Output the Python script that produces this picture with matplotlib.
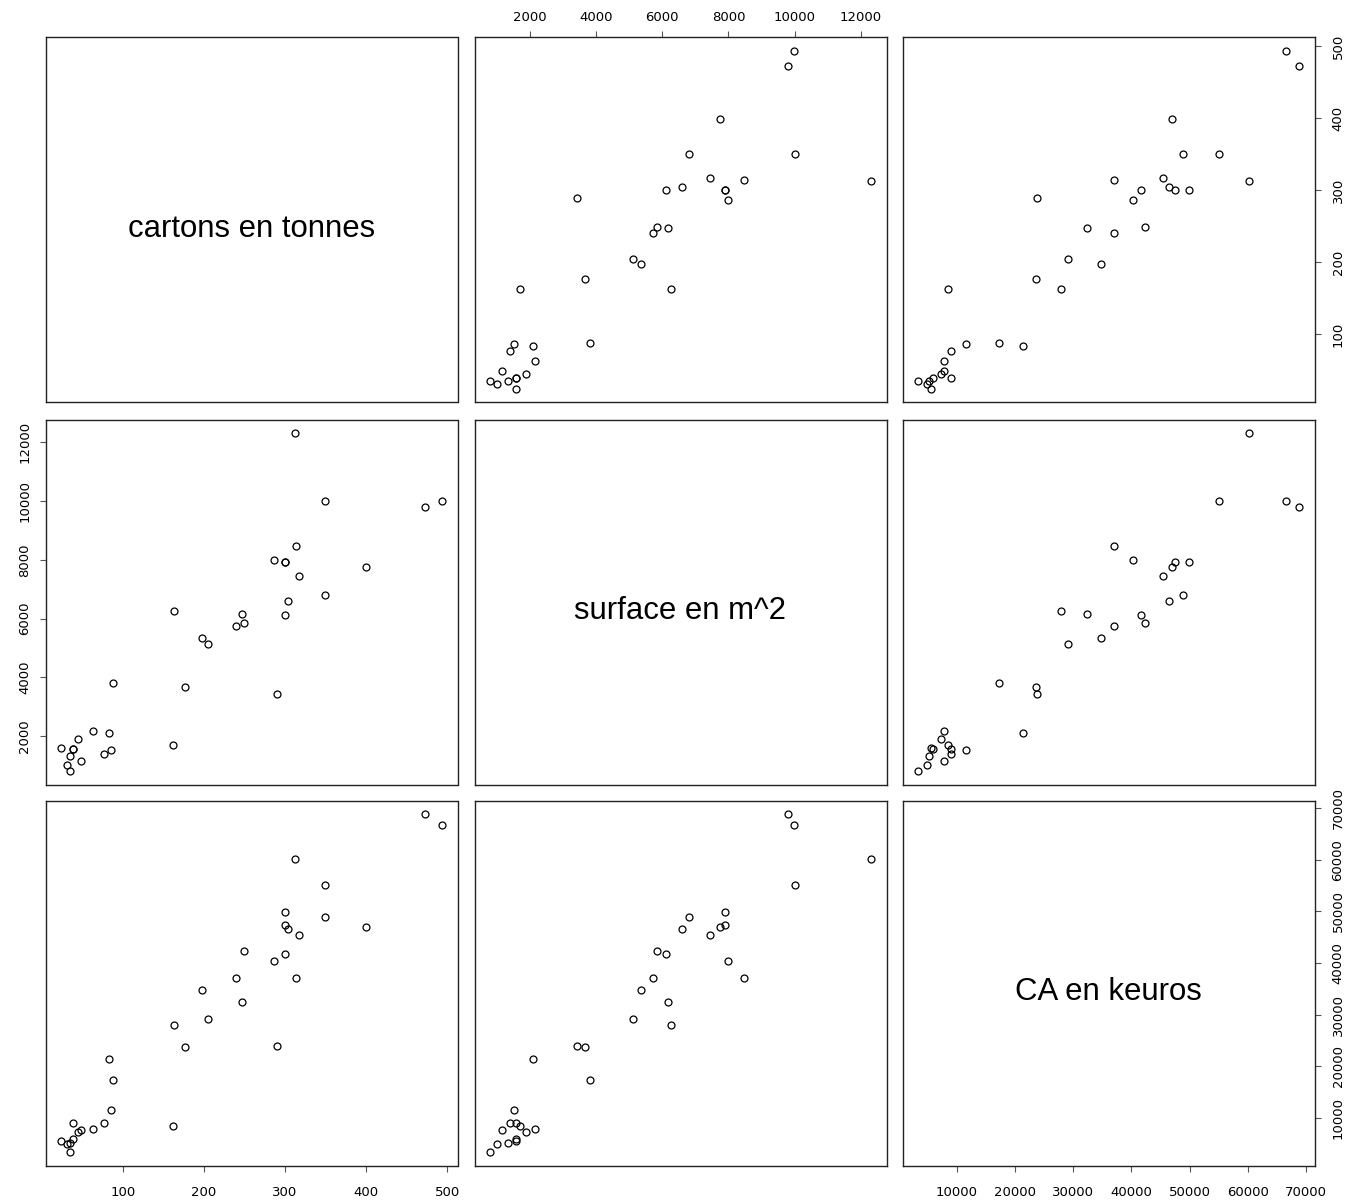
import matplotlib
matplotlib.use('Agg')
from matplotlib import pyplot as plt

names = ['cartons en tonnes', 'surface en m^2', 'CA en keuros']

cartons = [312.0, 349.6, 472.0, 493.7, 313.6, 286.2, 300.1, 300.1, 399.2, 316.9,
           349.6, 304.2, 162.6, 246.9, 300.1, 249.0, 240.0, 197.4, 204.4, 87.7,
           176.9, 289.5, 62.8, 83.2, 44.8, 162.2, 23.5, 38.2, 38.2, 85.3,
           76.7, 34.9, 48.0, 30.8, 34.5]
surface = [12313, 10002, 9798, 9991, 8473, 7986, 7907, 7907, 7737, 7454,
           6797, 6604, 6264, 6162, 6128, 5834, 5732, 5347, 5120, 3807,
           3671, 3421, 2164, 2108, 1892, 1711, 1598, 1575, 1575, 1541,
           1405, 1337, 1156, 1009, 794]
ca = [60180, 55090, 68830, 66630, 37020, 40310, 49920, 47400, 46890, 45470,
      48890, 46500, 27920, 32440, 41660, 42310, 37080, 34830, 29150, 17290,
      23670, 23860, 7800, 21410, 7290, 8450, 5480, 9030, 5870, 11610,
      8960, 5160, 7730, 4840, 3290]

ticks = [[100, 200, 300, 400, 500],
         [2000, 4000, 6000, 8000, 10000, 12000],
         [10000, 20000, 30000, 40000, 50000, 60000, 70000]]

W, H = 1348, 1204
lefts = [45.5, 474.5, 902.5]
tops = [37, 419.5, 800.5]
pw, ph = 412, 365.5

tick_font = ['Liberation Sans Narrow', 'DejaVu Sans']
tick_size = 9.5


def lims(v):
    lo, hi = min(v), max(v)
    d = 0.04 * (hi - lo)
    return lo - d, hi + d


def tick_labels(vals):
    return [str(v) for v in vals]


data = [cartons, surface, ca]
n = len(data)

fig = plt.figure(figsize=(W / 100, H / 100), dpi=100)

for i in range(n):
    for j in range(n):
        ax = fig.add_axes([lefts[j] / W, 1 - (tops[i] + ph) / H, pw / W, ph / H])
        ax.set_xlim(lims(data[j]))
        ax.set_ylim(lims(data[i]))
        for s in ax.spines.values():
            s.set_linewidth(1.0)
            s.set_color('#222222')

        if i == j:
            ax.text(0.5, 0.454, names[i], transform=ax.transAxes, ha='center',
                    va='baseline', fontsize=22.4, family=['Liberation Sans', 'DejaVu Sans'])
        else:
            ax.plot(data[j], data[i], 'o', mfc='none', mec='black', ms=5, mew=0.9)

        ax.tick_params(length=4.3, width=0.8, color='#555555', labelcolor='black',
                       bottom=False, top=False, left=False, right=False,
                       labelbottom=False, labeltop=False, labelleft=False, labelright=False)

        # x axis: top on first row (even cols, 1-based), bottom on last row (odd cols)
        if i == 0 and j % 2 == 1:
            ax.set_xticks(ticks[j])
            ax.set_xticklabels(tick_labels(ticks[j]), family=tick_font, fontsize=tick_size)
            ax.tick_params(axis='x', top=True, labeltop=True, pad=5)
        elif i == n - 1 and j % 2 == 0:
            ax.set_xticks(ticks[j])
            ax.set_xticklabels(tick_labels(ticks[j]), family=tick_font, fontsize=tick_size)
            ax.tick_params(axis='x', bottom=True, labelbottom=True, pad=10)
        else:
            ax.set_xticks([])

        # y axis: left on first col (even rows), right on last col (odd rows)
        if j == 0 and i % 2 == 1:
            ax.set_yticks(ticks[i])
            ax.set_yticklabels(tick_labels(ticks[i]), family=tick_font, fontsize=tick_size,
                               rotation=90, va='center')
            ax.tick_params(axis='y', left=True, labelleft=True, pad=6)
        elif j == n - 1 and i % 2 == 0:
            ax.set_yticks(ticks[i])
            ax.set_yticklabels(tick_labels(ticks[i]), family=tick_font, fontsize=tick_size,
                               rotation=90, va='center')
            ax.tick_params(axis='y', right=True, labelright=True, pad=8)
        else:
            ax.set_yticks([])

fig.savefig('out.png', dpi=100)
